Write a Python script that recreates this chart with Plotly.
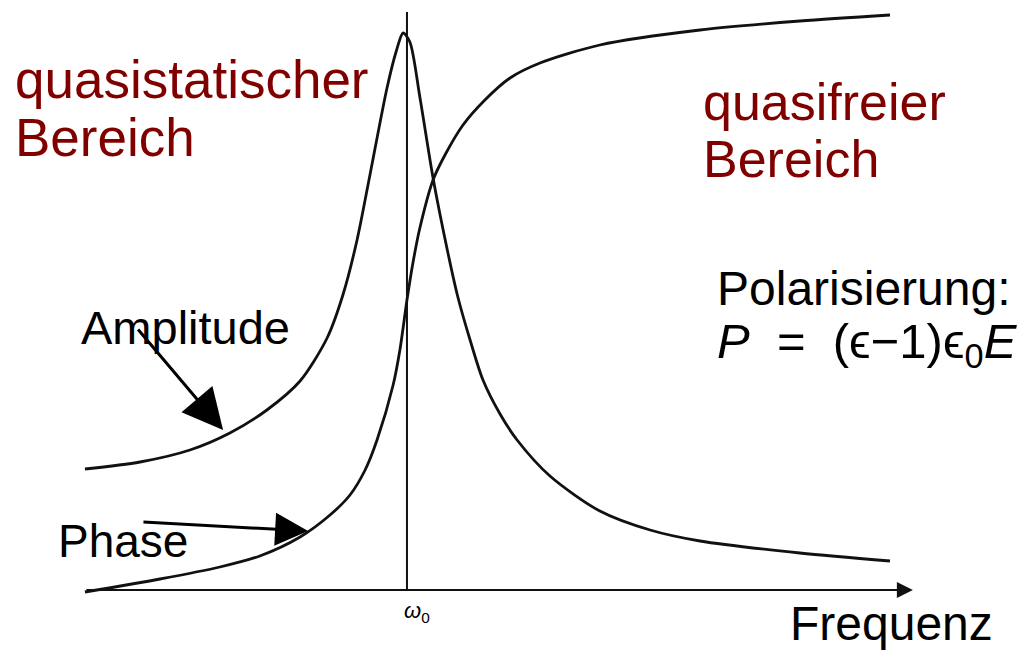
import plotly.graph_objects as go

# Frequency in units of omega_0 (omega/omega_0)
amp_freq = [0.000, 0.171, 0.326, 0.450, 0.565, 0.668, 0.752, 0.801, 0.845, 0.885, 0.938,
            0.966, 0.988, 1.009, 1.040, 1.081, 1.124, 1.158, 1.196, 1.236, 1.289, 1.342,
            1.444, 1.599, 1.755, 1.910, 2.220, 2.500]
amplitude = [1.21, 1.28, 1.40, 1.57, 1.80, 2.09, 2.52, 2.95, 3.50, 4.15, 5.02,
             5.38, 5.57, 5.48, 4.93, 4.12, 3.42, 2.93, 2.50, 2.10, 1.76, 1.50,
             1.14, 0.79, 0.60, 0.49, 0.37, 0.29]

phase_freq = [0.000, 0.233, 0.419, 0.543, 0.668, 0.761, 0.823, 0.870, 0.907, 0.957, 0.978,
              1.000, 1.019, 1.040, 1.081, 1.118, 1.174, 1.242, 1.320, 1.413, 1.599, 1.910,
              2.220, 2.500]
phase = [-0.02, 0.11, 0.23, 0.34, 0.53, 0.75, 0.95, 1.20, 1.50, 2.05, 2.40,
         2.90, 3.28, 3.62, 4.10, 4.35, 4.65, 4.90, 5.12, 5.27, 5.45, 5.60,
         5.69, 5.75]

omega0 = 1.0
vline_top = 5.78
axis_end = 2.571

DARKRED = "#800000"
INK = "#111111"
FONT = "Liberation Sans, Arial, sans-serif"

fig = go.Figure()
fig.add_trace(go.Scatter(x=amp_freq, y=amplitude, mode="lines",
                         line=dict(color=INK, width=2.8, shape="spline", smoothing=0.8),
                         hoverinfo="skip"))
fig.add_trace(go.Scatter(x=phase_freq, y=phase, mode="lines",
                         line=dict(color=INK, width=2.8, shape="spline", smoothing=0.8),
                         hoverinfo="skip"))
fig.add_trace(go.Scatter(x=[omega0, omega0], y=[0, vline_top], mode="lines",
                         line=dict(color=INK, width=2), hoverinfo="skip"))

ann = []
# frequency axis with arrow
ann.append(dict(x=axis_end, y=0, ax=0, ay=0, xref="x", yref="y", axref="x", ayref="y",
                text="", showarrow=True, arrowhead=2, arrowsize=1.6, arrowwidth=2,
                arrowcolor=INK, standoff=0, startstandoff=0))
# label arrows
ann.append(dict(x=0.429, y=1.60, ax=0.161, ay=2.62, xref="x", yref="y", axref="x", ayref="y",
                text="", showarrow=True, arrowhead=2, arrowsize=2.7, arrowwidth=3,
                arrowcolor="#000", standoff=0))
ann.append(dict(x=0.693, y=0.59, ax=0.177, ay=0.68, xref="x", yref="y", axref="x", ayref="y",
                text="", showarrow=True, arrowhead=2, arrowsize=2.2, arrowwidth=3,
                arrowcolor="#000", standoff=0))

def txt(t, x, y, size, color="#000", xanchor="left"):
    ann.append(dict(x=x, y=y, xref="x", yref="y", text=t, showarrow=False,
                    xanchor=xanchor, yanchor="middle",
                    font=dict(family=FONT, size=size, color=color)))

txt("quasistatischer", -0.225, 5.11, 53, DARKRED)
txt("Bereich", -0.225, 4.53, 53, DARKRED)
txt("quasifreier", 1.912, 4.88, 52, DARKRED)
txt("Bereich", 1.912, 4.31, 52, DARKRED)
txt("Polarisierung:", 1.955, 3.02, 48)
txt("<i>P</i>  =  (ϵ−1)ϵ<sub>0</sub><i>E</i>", 1.955, 2.46, 49)
txt("Amplitude", -0.02, 2.63, 47)
txt("Phase", -0.09, 0.49, 46)
txt("Frequenz", 2.505, -0.33, 48, xanchor="center")
txt("<i>ω</i><sub>0</sub>", 1.03, -0.22, 22, xanchor="center")

# The page body adds an 8px offset, so the figure is 8px smaller and the ranges start 8px in.
fig.update_layout(
    width=1024, height=647,
    margin=dict(l=0, r=0, t=0, b=0),
    paper_bgcolor="white", plot_bgcolor="white",
    showlegend=False,
    xaxis=dict(range=[-0.239, 2.941], visible=False, fixedrange=True),
    yaxis=dict(range=[-0.65, 5.82], visible=False, fixedrange=True),
    annotations=ann,
)
fig.write_html("out.html")
